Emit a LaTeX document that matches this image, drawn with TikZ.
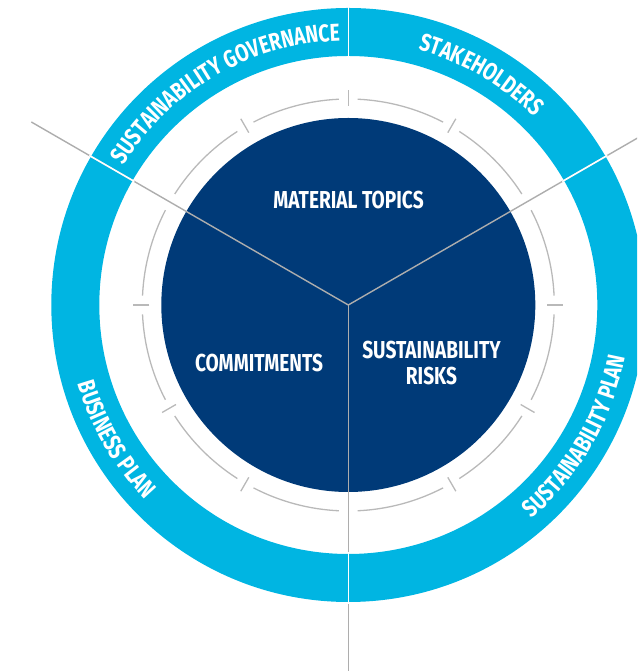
\documentclass[tikz,border=0pt]{standalone}
\usepackage{fontspec}
\setmainfont{Fira Sans}[FakeStretch=0.78]
\usetikzlibrary{decorations.text}
\definecolor{darkblue}{HTML}{003A78}
\definecolor{cyanring}{HTML}{00B5E2}
\definecolor{arcgray}{HTML}{B9B9B9}
\definecolor{linegray}{HTML}{ADADAD}
\newcommand\ringfont{\bfseries\fontsize{24.5}{25.5}\selectfont}
\tikzset{
  arcline/.style={draw=arcgray, line width=1.3pt},
  spoke/.style={draw=linegray, line width=1.4pt},
  divider/.style={draw=white, line width=1.6pt},
  centertext/.style={text=white, font=\ringfont, inner sep=0pt, align=center},
  ringlabel/.style={decorate, decoration={text along path, text align=center, text color=white, text={|\ringfont|#1}}}
}
\begin{document}
\begin{tikzpicture}[x=1pt,y=1pt]
\useasboundingbox (0,0) rectangle (637,671);
\clip (0,0) rectangle (637,671);
\coordinate (C) at (348.3,366);
% outer ring and inner disc
\fill[cyanring,even odd rule] (C) circle[radius=297] (C) circle[radius=249];
\fill[darkblue] (C) circle[radius=187];
% broken gray arc
\foreach \k in {0,...,11}{
  \draw[arcline] ([shift={(\k*30+2.6:206)}]C) arc[start angle=\k*30+2.6, end angle=\k*30+27.4, radius=206];
}
% ticks
\foreach \a in {0,60,90,120,180,210,240,300,330}{
  \coordinate (ti\a) at ([shift={(\a:199)}]C);
  \coordinate (to\a) at ([shift={(\a:215)}]C);
  \draw[arcline] (ti\a) -- (to\a);
}
% spokes
\foreach \a in {30,150,270}{
  \coordinate (e\a) at ([shift={(\a:366)}]C);
  \draw[spoke] (C) -- (e\a);
}
% white dividers in the ring
\foreach \a in {30,90,150,270}{
  \coordinate (di\a) at ([shift={(\a:247)}]C);
  \coordinate (do\a) at ([shift={(\a:299)}]C);
  \draw[divider] (di\a) -- (do\a);
}
% ring labels
\path[ringlabel={SUSTAINABILITY GOVERNANCE}] ([shift={(150:264.5)}]C) arc[start angle=150, end angle=90, radius=264.5];
\path[ringlabel={STAKEHOLDERS}] ([shift={(90:264.5)}]C) arc[start angle=90, end angle=30, radius=264.5];
\path[ringlabel={BUSINESS PLAN}] ([shift={(150:281.5)}]C) arc[start angle=150, end angle=270, radius=281.5];
\path[ringlabel={SUSTAINABILITY PLAN}] ([shift={(-90:281.5)}]C) arc[start angle=-90, end angle=30, radius=281.5];
% centre labels
\node[centertext] (mt) at (348.5,471) {MATERIAL TOPICS};
\node[centertext] (cm) at (259,307.5) {COMMITMENTS};
\node[centertext] (sr) at (431.5,307.75) {SUSTAINABILITY\\RISKS};
\end{tikzpicture}
\end{document}
